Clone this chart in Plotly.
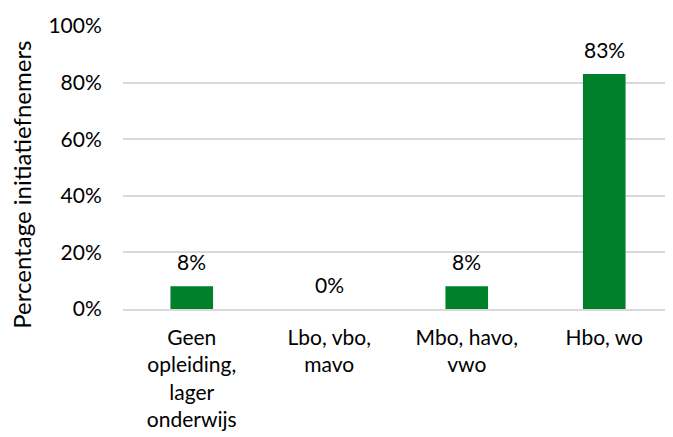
import plotly.graph_objects as go

categories = ["Geen<br>opleiding,<br>lager<br>onderwijs", "Lbo, vbo,<br>mavo",
              "Mbo, havo,<br>vwo", "Hbo, wo"]
values = [0.08, 0.0, 0.08, 0.83]
value_labels = ["8%", "0%", "8%", "83%"]

green = "#00802b"
family = "Lato, Carlito, Calibri, sans-serif"
font = dict(family=family, size=21, color="#000000")
title_font = dict(family=family, size=24, color="#000000")

fig = go.Figure()
fig.add_trace(go.Bar(x=categories, y=values, marker=dict(color=green, line=dict(width=0)),
                     width=0.31, hoverinfo="skip"))

for c, v, t in zip(categories, values, value_labels):
    fig.add_annotation(x=c, y=v, text=t, showarrow=False, yshift=25,
                       font=font, xref="x", yref="y")

# axis title placed by hand, it is centred lower than the plot area
fig.add_annotation(text="Percentage initiatiefnemers", textangle=-90,
                   x=-0.185, y=0.44, xref="paper", yref="paper",
                   xanchor="center", yanchor="middle",
                   showarrow=False, font=title_font)

# page body has an 8px margin, so the figure is a bit smaller than the window
fig.update_layout(
    width=665, height=429,
    margin=dict(l=115, r=0, t=18, b=128),
    paper_bgcolor="white", plot_bgcolor="white",
    font=font, showlegend=False,
)
fig.update_xaxes(showline=True, linecolor="#d9d9d9", linewidth=1.5,
                 ticks="outside", ticklen=9, tickcolor="rgba(0,0,0,0)",
                 tickfont=font, fixedrange=True, automargin=False)
fig.update_yaxes(range=[0, 1], tickvals=[0, 0.2, 0.4, 0.6, 0.8, 1.0],
                 ticktext=["0%", "20%", "40%", "60%", "80%", "100%"],
                 showgrid=True, gridcolor="#d9d9d9", gridwidth=1.5, zeroline=False,
                 ticks="outside", ticklen=16, tickcolor="rgba(0,0,0,0)",
                 tickfont=font, fixedrange=True, automargin=False)

fig.write_html("out.html")
